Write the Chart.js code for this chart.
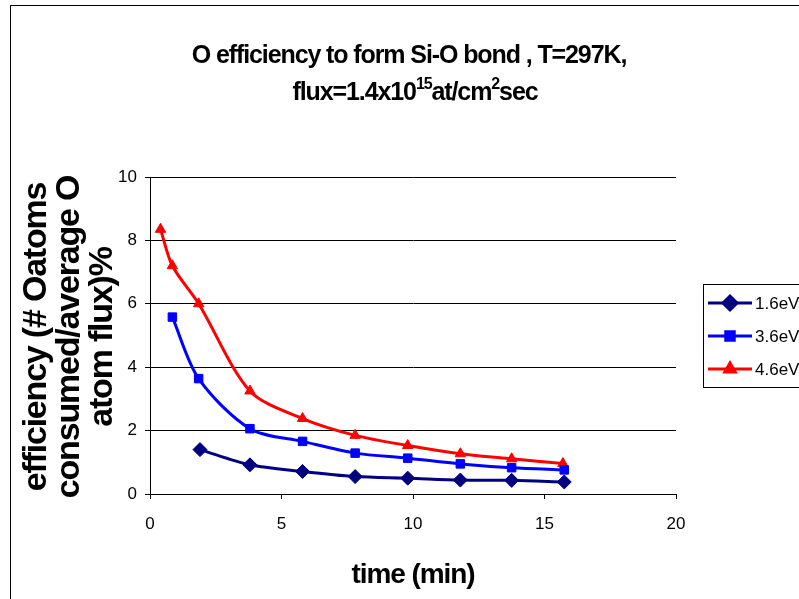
<!DOCTYPE html>
<html>
<head>
<meta charset="utf-8">
<title>O efficiency to form Si-O bond</title>
<script src="https://cdn.jsdelivr.net/npm/chart.js@4.4.1/dist/chart.umd.min.js"></script>
<style>
    html, body { margin: 0; padding: 0; background: #fff; }
    #wrap { width: 799px; height: 599px; }
</style>
</head>
<body>
<div id="wrap"><canvas id="effChart" width="799" height="599"></canvas></div>
<script>
// measured efficiency vs exposure time, one series per O atom energy
const seriesLabels = ['1.6eV', '3.6eV', '4.6eV'];

const time16 = [1.9, 3.8, 5.8, 7.8, 9.8, 11.8, 13.75, 15.75];
const eff16 = [1.40, 0.92, 0.71, 0.55, 0.50, 0.44, 0.43, 0.38];

const time36 = [0.85, 1.85, 3.8, 5.8, 7.8, 9.8, 11.8, 13.75, 15.75];
const eff36 = [5.58, 3.64, 2.06, 1.66, 1.29, 1.13, 0.95, 0.83, 0.76];

const time46 = [0.4, 0.85, 1.85, 3.8, 5.8, 7.8, 9.8, 11.8, 13.75, 15.7];
const eff46 = [8.35, 7.2, 6.0, 3.25, 2.38, 1.85, 1.53, 1.27, 1.11, 0.96];

const xTicks = [0, 5, 10, 15, 20];
const yTicks = [0, 2, 4, 6, 8, 10];

const titleLine1 = [{ t: 'O efficiency to form Si-O bond , T=297K,' }];
const titleLine2 = [
    { t: 'flux=1.4x10' }, { t: '15', sup: true },
    { t: 'at/cm' }, { t: '2', sup: true }, { t: 'sec' }
];
const yTitleLines = ['efficiency (# Oatoms', 'consumed/average O', 'atom flux)%'];
const xTitle = 'time (min)';

const FONT = '"Liberation Sans", Arial, sans-serif';

function toPoints(xs, ys) {
    return xs.map((x, i) => ({ x: x, y: ys[i] }));
}

// text made of normal and superscript runs, centred on cx
function drawRuns(ctx, runs, cx, y, size) {
    const supSize = Math.round(size * 0.64);
    let total = 0;
    runs.forEach(r => {
        ctx.font = `bold ${r.sup ? supSize : size}px ${FONT}`;
        r.w = ctx.measureText(r.t).width;
        total += r.w;
    });
    let x = cx - total / 2;
    runs.forEach(r => {
        ctx.font = `bold ${r.sup ? supSize : size}px ${FONT}`;
        ctx.fillText(r.t, x, r.sup ? y - size * 0.45 : y);
        x += r.w;
    });
}

const decorPlugin = {
    id: 'decor',
    beforeDraw(chart) {
        const ctx = chart.ctx;
        ctx.save();
        ctx.fillStyle = '#fff';
        ctx.fillRect(0, 0, chart.width, chart.height);
        ctx.strokeStyle = '#000';
        ctx.lineWidth = 1;
        ctx.strokeRect(10.5, 5.5, 900, 700);
        ctx.restore();
    },
    afterDraw(chart) {
        const ctx = chart.ctx;
        const area = chart.chartArea;
        ctx.save();
        ctx.fillStyle = '#000';
        ctx.textBaseline = 'alphabetic';
        ctx.textAlign = 'left';
        ctx.letterSpacing = '-1.1px';

        // chart title
        drawRuns(ctx, titleLine1, 409, 63, 25);
        drawRuns(ctx, titleLine2, 415, 100, 25);

        // x axis title
        ctx.font = `bold 28px ${FONT}`;
        ctx.textAlign = 'center';
        ctx.fillText(xTitle, (area.left + area.right) / 2, 583);

        // y axis title, three rotated lines
        ctx.save();
        ctx.translate(0, 337);
        ctx.rotate(-Math.PI / 2);
        ctx.font = `bold 34px ${FONT}`;
        ctx.letterSpacing = '-1.2px';
        ctx.textBaseline = 'middle';
        [37, 70, 103].forEach((x, i) => {
            ctx.fillText(yTitleLines[i], 0, x);
        });
        ctx.restore();

        // legend
        ctx.letterSpacing = '0px';
        ctx.lineWidth = 1;
        ctx.strokeStyle = '#000';
        ctx.strokeRect(703.5, 284.5, 200, 103);
        ctx.font = `17px ${FONT}`;
        ctx.textAlign = 'left';
        ctx.textBaseline = 'middle';
        [303, 336, 369].forEach((y, i) => {
            const ds = chart.data.datasets[i];
            ctx.strokeStyle = ds.borderColor;
            ctx.lineWidth = 3;
            ctx.beginPath();
            ctx.moveTo(708, y);
            ctx.lineTo(752, y);
            ctx.stroke();
            ctx.fillStyle = ds.pointBackgroundColor;
            ctx.strokeStyle = ds.pointBorderColor;
            Chart.helpers.drawPoint(ctx, {
                pointStyle: ds.pointStyle,
                radius: ds.pointRadius,
                rotation: 0,
                borderWidth: 1
            }, 730, y);
            ctx.fillStyle = '#000';
            ctx.fillText(ds.label, 755, y + 1);
        });
        ctx.restore();
    }
};

const datasets = [
    { label: seriesLabels[0], data: toPoints(time16, eff16), color: '#000080', style: 'rectRot', r: 7 },
    { label: seriesLabels[1], data: toPoints(time36, eff36), color: '#0000ff', style: 'rect', r: 6 },
    { label: seriesLabels[2], data: toPoints(time46, eff46), color: '#ff0000', style: 'triangle', r: 6 }
].map(s => ({
    label: s.label,
    data: s.data,
    borderColor: s.color,
    backgroundColor: s.color,
    pointBackgroundColor: s.color,
    pointBorderColor: s.color,
    pointStyle: s.style,
    pointRadius: s.r,
    pointBorderWidth: 1,
    borderWidth: 3,
    tension: 0.3,
    fill: false
}));

new Chart(document.getElementById('effChart'), {
    type: 'scatter',
    data: { datasets: datasets },
    options: {
        responsive: false,
        animation: false,
        devicePixelRatio: 1,
        showLine: true,
        layout: { padding: { top: 177, right: 123, left: 0, bottom: 0 } },
        plugins: {
            legend: { display: false },
            title: { display: false },
            tooltip: { enabled: false }
        },
        scales: {
            x: {
                type: 'linear',
                min: 0,
                max: 20,
                afterBuildTicks: s => { s.ticks = xTicks.map(v => ({ value: v })); },
                afterFit: s => { s.height = 105; },
                ticks: { color: '#000', font: { family: FONT, size: 17 }, padding: 15, maxRotation: 0 },
                grid: { drawOnChartArea: false, tickLength: 5, color: '#000' },
                border: { color: '#000', width: 1 }
            },
            y: {
                min: 0,
                max: 10,
                afterBuildTicks: s => { s.ticks = yTicks.map(v => ({ value: v })); },
                afterFit: s => { s.width = 150; },
                ticks: { color: '#000', font: { family: FONT, size: 17 }, padding: 8 },
                grid: { color: '#000', tickLength: 5 },
                border: { color: '#000', width: 1 }
            }
        }
    },
    plugins: [decorPlugin]
});
</script>
</body>
</html>
